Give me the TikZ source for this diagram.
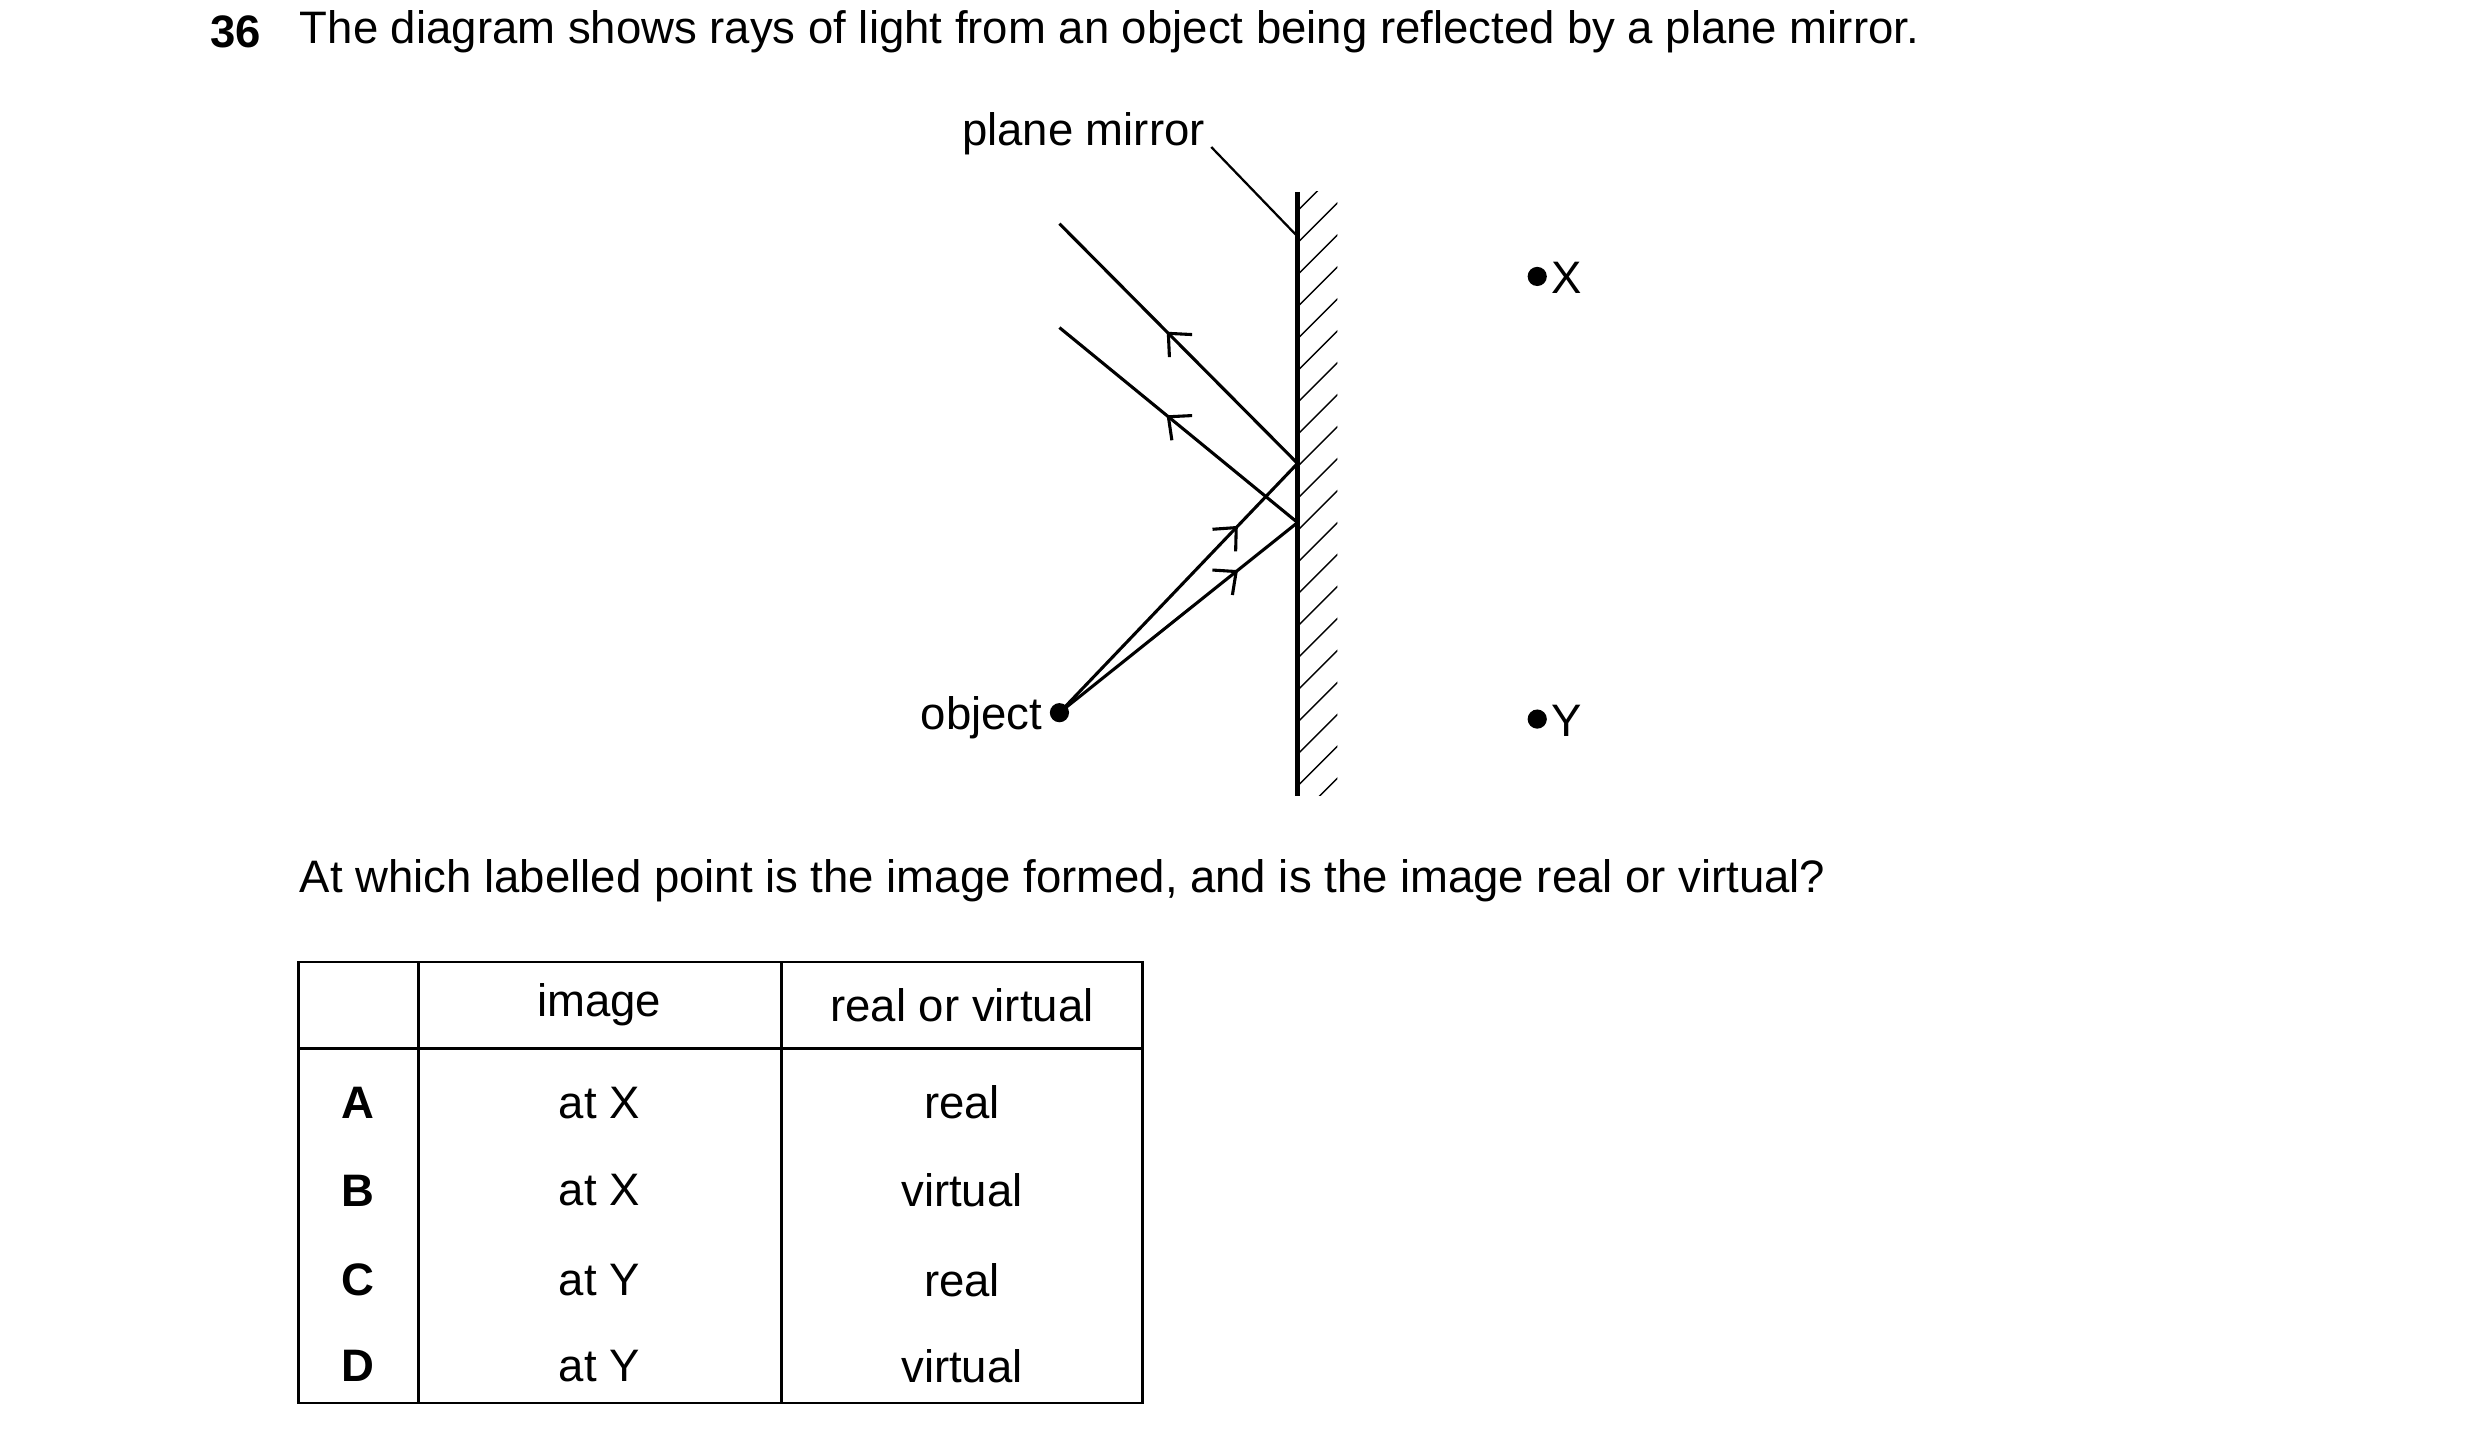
\documentclass[tikz,border=0pt]{standalone}
\usepackage{fontspec}
\setmainfont{Liberation Sans}
\usetikzlibrary{arrows.meta,decorations.markings}
\begin{document}
\begin{tikzpicture}[x=0.01cm,y=-0.01cm,
  txt/.style={font=\fontsize{8.1}{10}\selectfont,inner sep=0pt},
  ray/.style={line width=0.55pt},
  mid/.style={postaction={decorate},decoration={markings,mark=at position #1 with {\arrow{Straight Barb[length=1.1mm,width=2.0mm,line width=0.55pt]}}}},
  dot/.style={circle,fill=black,inner sep=0pt,minimum size=1.2mm},
  tl/.style={line width=0.5pt}]
\useasboundingbox (0,0) rectangle (1552,894);
% title
\node[txt,anchor=west,font=\fontsize{8.1}{10}\selectfont\bfseries] (num) at (131,20) {36};
\node[txt,anchor=west] (title) at (187,20) {The diagram shows rays of light from an object being reflected by a plane mirror.};
% mirror
\coordinate (mt) at (812,120);
\coordinate (mb) at (812,498);
\begin{scope}
\clip (812,120) rectangle (837,498);
\foreach \y in {132,152,...,540} \draw[line width=0.25pt] (812,\y) -- (852,\y-40);
\end{scope}
\draw[line width=0.75pt] (mt) -- (mb);
\node[txt] (pm) at (678,84) {plane mirror};
\coordinate (pmA) at (758,92);
\coordinate (pmB) at (812,148);
\draw[line width=0.4pt] (pmA) -- (pmB);
% rays
\node[dot] (obj) at (663,446) {};
\node[txt,anchor=east] (objl) at (653,449) {object};
\coordinate (h1) at (812,290);
\coordinate (h2) at (812,327);
\coordinate (e1) at (663,140);
\coordinate (e2) at (663,205);
\draw[ray,mid=0.75] (obj.center) -- (h1);
\draw[ray,mid=0.75] (obj.center) -- (h2);
\draw[ray,mid=0.55] (h1) -- (e1);
\draw[ray,mid=0.55] (h2) -- (e2);
% points
\node[dot] (X) at (962,173) {};
\node[txt,anchor=west] (Xl) at (970,174) {X};
\node[dot] (Y) at (962,450) {};
\node[txt,anchor=west] (Yl) at (970,451) {Y};
% question
\node[txt,anchor=west] (q) at (187,551) {At which labelled point is the image formed, and is the image real or virtual?};
% table
\draw[tl] (187,602) rectangle (715,878);
\draw[tl] (187,656) -- (715,656);
\draw[tl] (262,602) -- (262,878);
\draw[tl] (489,602) -- (489,878);
\node[txt] (h1t) at (375,629) {image};
\node[txt] (h2t) at (602,629) {real or virtual};
\foreach \l/\i/\r/\y in {A/at X/real/690,B/at X/virtual/745,C/at Y/real/801,D/at Y/virtual/855}{
  \node[txt,font=\fontsize{8.1}{10}\selectfont\bfseries] (L\l) at (224,\y) {\l};
  \node[txt] (I\l) at (375,\y) {\i};
  \node[txt] (R\l) at (602,\y) {\r};
}
\end{tikzpicture}
\end{document}
